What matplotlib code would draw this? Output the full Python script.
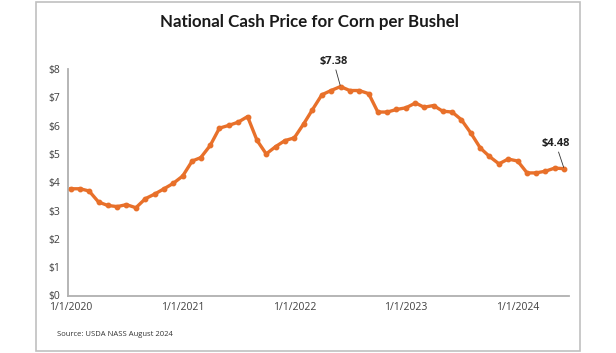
import matplotlib
matplotlib.use('Agg')
import matplotlib.pyplot as plt
import matplotlib.patches as patches
import pandas as pd

# Monthly national cash price for corn, Jan 2020 - Jun 2024 ($/bushel)
months = pd.date_range('2020-01-01', '2024-06-01', freq='MS')
prices = [3.77, 3.77, 3.69, 3.30, 3.18, 3.14, 3.21, 3.10, 3.42, 3.58, 3.77, 3.96,
          4.22, 4.75, 4.87, 5.30, 5.91, 6.01, 6.12, 6.32, 5.48, 5.00, 5.26, 5.47,
          5.57, 6.07, 6.56, 7.09, 7.24, 7.38, 7.24, 7.24, 7.13, 6.48, 6.48, 6.57,
          6.63, 6.80, 6.65, 6.71, 6.51, 6.48, 6.21, 5.74, 5.21, 4.91, 4.65, 4.82,
          4.75, 4.33, 4.33, 4.39, 4.50, 4.48]
tick_dates = pd.to_datetime(['2020-01-01', '2021-01-01', '2022-01-01', '2023-01-01', '2024-01-01'])
tick_labels = ['1/1/2020', '1/1/2021', '1/1/2022', '1/1/2023', '1/1/2024']
y_ticks = [0, 1, 2, 3, 4, 5, 6, 7, 8]
y_labels = ['$%d' % v for v in y_ticks]

ORANGE = '#E8702A'
GREY = '#b0b0b0'
TEXT = '#404040'

plt.rcParams['font.family'] = ['Open Sans', 'DejaVu Sans']

fig = plt.figure(figsize=(6.16, 3.53), dpi=100)
ax = fig.add_axes([68/616, 1-295.5/353, (569-68)/616, (295.5-69)/353])

ax.plot(months, prices, color=ORANGE, lw=2.4, marker='o', ms=3.2, zorder=3)

# Set axes
ax.set_ylim(0, 8)
ax.set_xlim(pd.Timestamp('2019-12-23'), pd.Timestamp('2024-06-17'))
ax.set_yticks(y_ticks)
ax.set_yticklabels(y_labels)
ax.set_xticks(tick_dates)
ax.set_xticklabels(tick_labels)
ax.tick_params(axis='both', length=0, labelsize=7.5, labelcolor=TEXT)
ax.tick_params(axis='y', pad=14)
ax.tick_params(axis='x', pad=5)
for lab in ax.get_yticklabels():
    lab.set_horizontalalignment('left')
for s in ['top', 'right']:
    ax.spines[s].set_visible(False)
for s in ['left', 'bottom']:
    ax.spines[s].set_color(GREY)
    ax.spines[s].set_linewidth(1.3)

# Annotations for peak and latest value
peak_i = prices.index(max(prices))
ax.annotate('$%.2f' % prices[peak_i], xy=(months[peak_i], prices[peak_i]),
            xytext=(-5, 14), textcoords='offset points', ha='center', va='bottom',
            fontsize=8, fontweight='bold', color='#222222',
            arrowprops=dict(arrowstyle='-', color='#333333', lw=0.6, shrinkA=0, shrinkB=1))
ax.annotate('$%.2f' % prices[-1], xy=(months[-1], prices[-1]),
            xytext=(-6, 14), textcoords='offset points', ha='center', va='bottom',
            fontsize=8, fontweight='bold', color='#222222',
            arrowprops=dict(arrowstyle='-', color='#333333', lw=0.6, shrinkA=0, shrinkB=1))

# Title, source and frame
fig.text(310/616, 1-22/353, 'National Cash Price for Corn per Bushel', ha='center', va='center',
         fontsize=12.2, fontweight='bold', color='#1a1a1a', family=['Lato', 'DejaVu Sans'])
fig.text(57/616, 1-334/353, 'Source: USDA NASS August 2024', ha='left', va='center',
         fontsize=5.5, color='#333333')
fig.patches.append(patches.Rectangle((36/616, 1-351/353), (580-36)/616, (351-2)/353,
                                     transform=fig.transFigure, fill=False,
                                     edgecolor='#c0c0c0', lw=1.2))

plt.savefig('out.png', dpi=100)
